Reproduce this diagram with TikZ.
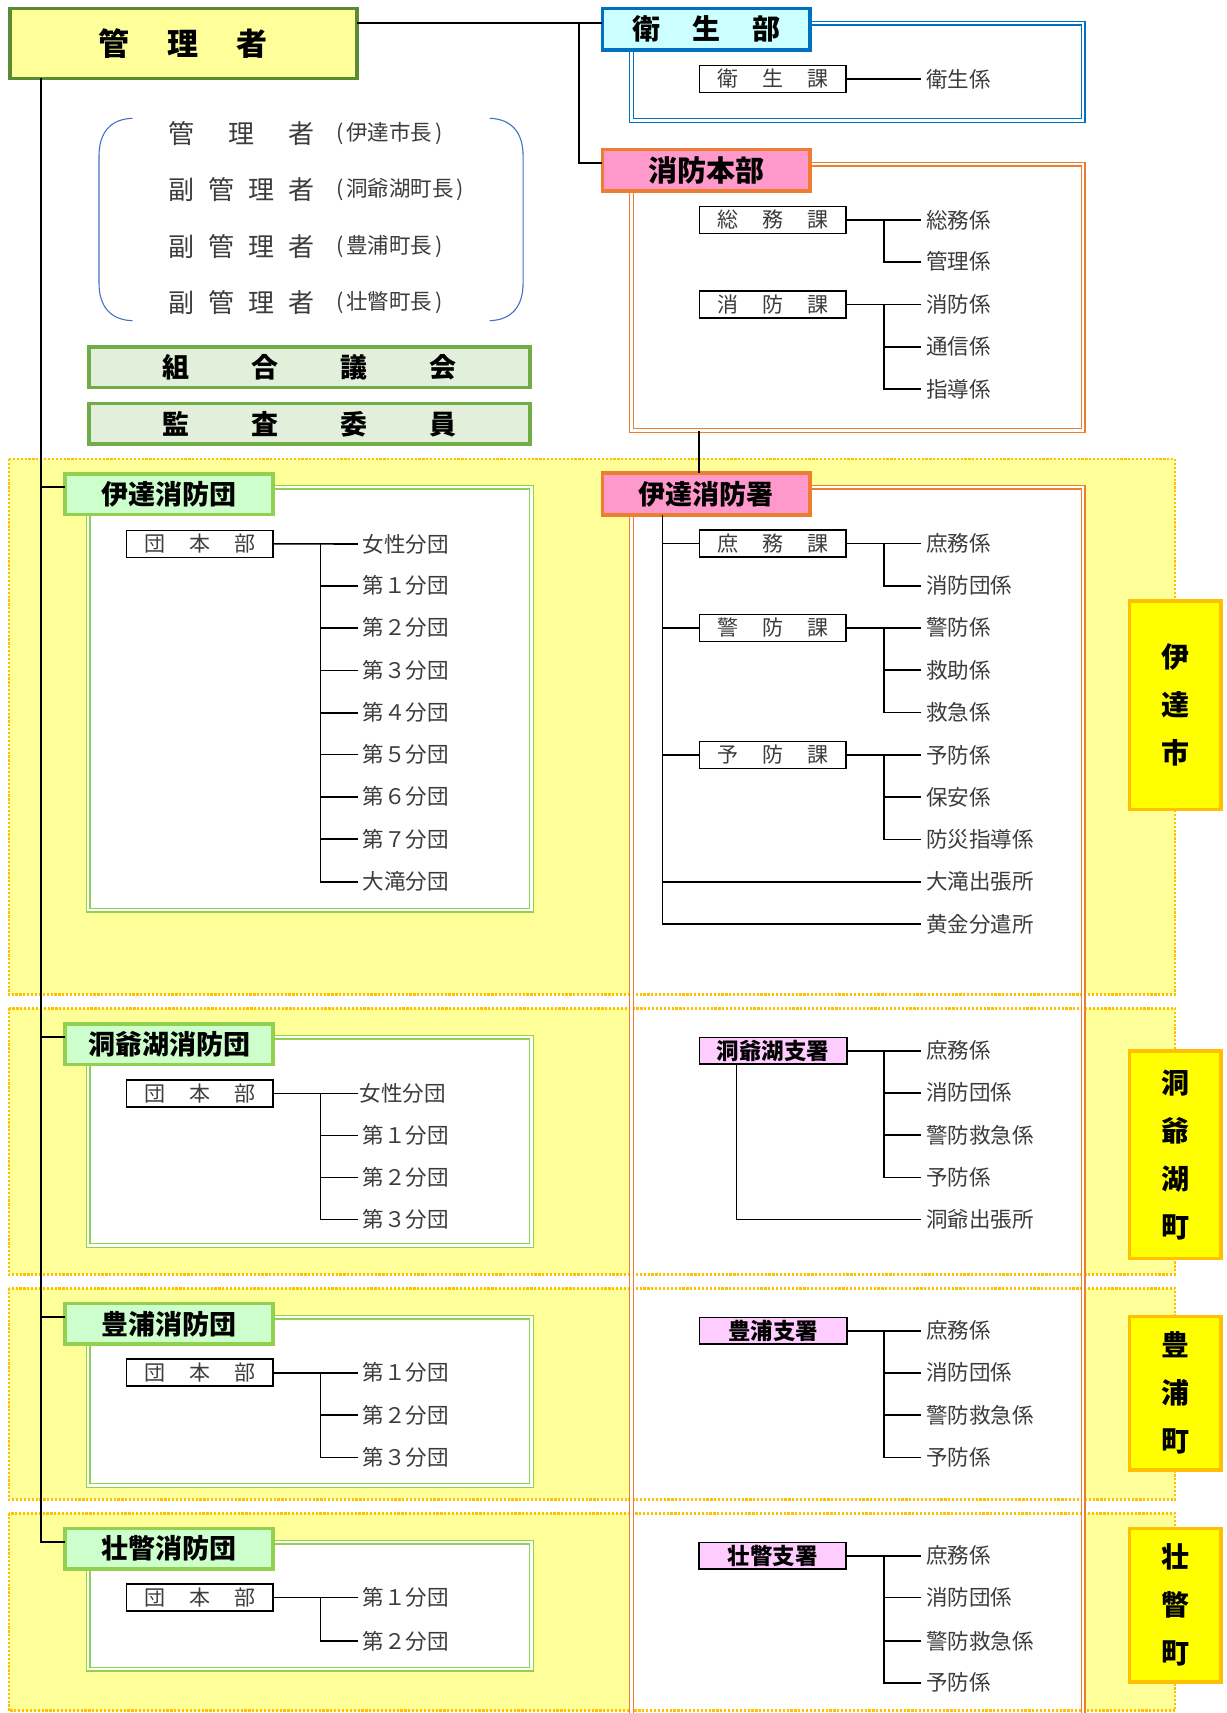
\documentclass[tikz,border=0pt]{standalone}
\usepackage{fontspec}
\newfontfamily\jp{Noto Sans CJK JP}
\definecolor{txt}{HTML}{3C3C3C}
\definecolor{ybg}{HTML}{FFFF99}
\definecolor{gold}{HTML}{FFC000}
\definecolor{mgrline}{HTML}{5A8A32}
\definecolor{cyanfill}{HTML}{CCFFFF}
\definecolor{blueline}{HTML}{0070C0}
\definecolor{pinkfill}{HTML}{FF99CC}
\definecolor{orangeline}{HTML}{ED7D31}
\definecolor{kgfill}{HTML}{E2EFDA}
\definecolor{kgline}{HTML}{70AD47}
\definecolor{sdfill}{HTML}{CCFFCC}
\definecolor{sdline}{HTML}{92D050}
\definecolor{shfill}{HTML}{FFCCFF}
\definecolor{townfill}{HTML}{FFFF00}
\definecolor{brk}{HTML}{4472C4}
\newcommand{\gap}[1]{\hspace{#1pt}}
\newcommand{\hdr}[1]{\jp\bfseries\fontsize{#1}{#1}\selectfont}
\begin{document}
\begin{tikzpicture}[x=1pt,y=-1pt,
  conn/.style={draw=black,line width=1.6pt},
  lbl/.style={anchor=west,inner xsep=5pt,inner ysep=0pt,outer sep=0pt,font=\jp\fontsize{21.5}{24}\selectfont,text=txt},
  kabox/.style={draw=black,line width=1.6pt,fill=white,minimum width=146.5pt,minimum height=27pt,inner sep=0pt,outer sep=0pt,font=\jp\fontsize{21}{24}\selectfont,text=txt},
  bigbox/.style={line width=3.5pt,inner sep=0pt,outer sep=0pt,text=black},
  sdbox/.style={bigbox,fill=sdfill,draw=sdline,minimum width=208pt,minimum height=40.2pt,font=\hdr{27}},
  kgbox/.style={bigbox,fill=kgfill,draw=kgline,minimum width=441.3pt,minimum height=40.8pt,font=\hdr{27}},
  shbox/.style={draw=black,line width=1.8pt,fill=shfill,minimum width=147.2pt,minimum height=26.5pt,inner sep=0pt,outer sep=0pt,font=\hdr{22.5}},
  town/.style={bigbox,fill=townfill,draw=gold,minimum width=91.2pt,align=center,font=\jp\bfseries\fontsize{28}{48}\selectfont},
  brtext/.style={anchor=west,inner sep=0pt,font=\jp\fontsize{26}{28}\selectfont,text=txt},
  brpar/.style={anchor=west,inner sep=0pt,font=\jp\fontsize{21.5}{24}\selectfont,text=txt},
  dotline/.style={draw=gold,line width=2.4pt,dash pattern=on 2.2pt off 1.7pt},
  gframe/.style={draw=sdline,line width=1.3pt,double=white,double distance=2.4pt},
  oframe/.style={draw=orangeline,line width=1.3pt,double=white,double distance=2.4pt},
  bframe/.style={draw=blueline,line width=1.3pt,double=white,double distance=2.4pt}
]
\useasboundingbox[fill=white] (0,0) rectangle (1226,1713);

% --- regions ---
\foreach \a/\b in {459/994.3,1008.3/1274.3,1288.3/1499.3,1513.3/1710.5}
  \fill[ybg] (8.7,\a) rectangle (1175,\b);
\fill[white] (633.6,489) rectangle (1080.6,1716);
\foreach \a/\b in {459/994.3,1008.3/1274.3,1288.3/1499.3,1513.3/1710.5}
  \draw[dotline] (8.7,\a) rectangle (1175,\b);

% --- frames ---
\draw[bframe] (631.5,23) rectangle (1083,120.5);
\draw[oframe] (631.5,164) rectangle (1083,430.5);
\draw[oframe] (631.5,1725) -- (631.5,487.2) -- (1083,487.2) -- (1083,1725);
\draw[gframe,fill=white] (88.2,487.2) rectangle (531.4,910);
\draw[gframe,fill=white] (88.2,1037.2) rectangle (531.4,1245.5);
\draw[gframe,fill=white] (88.2,1317.2) rectangle (531.4,1485.5);
\draw[gframe,fill=white] (88.2,1542) rectangle (531.4,1669);
\coordinate (hqbot) at (698.7,430.5);

% --- brackets ---
\draw[brk,line width=1.1pt] (132.5,118.3) .. controls (110,119) and (99,133) .. (99,156) -- (99,283) .. controls (99,306) and (110,320) .. (132.5,320.7);
\draw[brk,line width=1.1pt] (489.6,118.3) .. controls (512,119) and (523.1,133) .. (523.1,156) -- (523.1,283) .. controls (523.1,306) and (512,320) .. (489.6,320.7);

% --- top nodes ---
\node[bigbox,fill=ybg,draw=mgrline,minimum width=347pt,minimum height=70pt,font=\hdr{31}] (mgr) at (183.3,43.3) {管\gap{38}理\gap{38}者};
\node[bigbox,fill=cyanfill,draw=blueline,minimum width=207.5pt,minimum height=41.5pt,font=\hdr{28}] (eisei) at (706.1,29.2) {衛\gap{32}生\gap{32}部};
\node[bigbox,fill=pinkfill,draw=orangeline,minimum width=207.5pt,minimum height=41.5pt,font=\hdr{29}] (honbu) at (706.1,170.2) {消防本部};

\node[brtext] (r1a) at (168.5,133.3) {管\gap{34}理\gap{34}者};
\node[brpar]  (r1b) at (336,133.3) {(\kern3pt伊達市長\kern3pt)};
\node[brtext] (r2a) at (168.5,190) {副\gap{14}管\gap{14}理\gap{14}者};
\node[brpar]  (r2b) at (336,190) {(\kern3pt洞爺湖町長\kern3pt)};
\node[brtext] (r3a) at (168.5,246.7) {副\gap{14}管\gap{14}理\gap{14}者};
\node[brpar]  (r3b) at (336,246.7) {(\kern3pt豊浦町長\kern3pt)};
\node[brtext] (r4a) at (168.5,302.7) {副\gap{14}管\gap{14}理\gap{14}者};
\node[brpar]  (r4b) at (336,302.7) {(\kern3pt壮瞥町長\kern3pt)};

\node[kgbox] (kumiai) at (309.4,367.2) {組\gap{62}合\gap{62}議\gap{62}会};
\node[kgbox] (kansa) at (309.4,423.8) {監\gap{62}査\gap{62}委\gap{62}員};

% 衛生部 contents
\node[kabox] (eka) at (772.9,79) {衛\gap{24}生\gap{24}課};
\node[lbl] (ek1) at (921,79) {衛生係};
% 消防本部 contents
\coordinate (vxa) at (883.7,0);
\node[kabox] (soumu) at (772.9,220) {総\gap{24}務\gap{24}課};
\node[lbl] (s1) at (921,220) {総務係};
\node[lbl] (s2) at (921,261.7) {管理係};
\node[kabox] (shobo) at (772.9,304.5) {消\gap{24}防\gap{24}課};
\node[lbl] (p1) at (921,304.5) {消防係};
\node[lbl] (p2) at (921,346.7) {通信係};
\node[lbl] (p3) at (921,389) {指導係};

% --- main line ---
\coordinate (b1) at (40.7,486.7);
\coordinate (b2) at (40.7,1036.7);
\coordinate (b3) at (40.7,1316.7);
\coordinate (b4) at (40.7,1541.7);

% --- fire corps (left) ---
\node[sdbox] (dsd) at (169,494.2) {伊達消防団};
\node[sdbox] (tsd) at (169,1044.2) {洞爺湖消防団};
\node[sdbox] (usd) at (169,1323.7) {豊浦消防団};
\node[sdbox] (ssd) at (169,1548.7) {壮瞥消防団};

\coordinate (vd) at (320.3,0);
\node[kabox] (dh1) at (199.7,543.8) {団\gap{24}本\gap{24}部};
\node[lbl] (d1) at (357.8,544) {女性分団};
\node[lbl] (d2) at (357.8,585.7) {第１分団};
\node[lbl] (d3) at (357.8,627.7) {第２分団};
\node[lbl] (d4) at (357.8,670.3) {第３分団};
\node[lbl] (d5) at (357.8,712.7) {第４分団};
\node[lbl] (d6) at (357.8,754.3) {第５分団};
\node[lbl] (d7) at (357.8,796.7) {第６分団};
\node[lbl] (d8) at (357.8,839) {第７分団};
\node[lbl] (d9) at (357.8,881.7) {大滝分団};

\node[kabox] (dh2) at (199.7,1093.3) {団\gap{24}本\gap{24}部};
\node[lbl,inner xsep=2pt] (e1) at (357.8,1093.3) {女性分団};
\node[lbl] (e2) at (357.8,1135.3) {第１分団};
\node[lbl] (e3) at (357.8,1177.6) {第２分団};
\node[lbl] (e4) at (357.8,1219.6) {第３分団};

\node[kabox] (dh3) at (199.7,1372.7) {団\gap{24}本\gap{24}部};
\node[lbl] (f1) at (357.8,1372.7) {第１分団};
\node[lbl] (f2) at (357.8,1415) {第２分団};
\node[lbl] (f3) at (357.8,1457.5) {第３分団};

\node[kabox] (dh4) at (199.7,1597.5) {団\gap{24}本\gap{24}部};
\node[lbl] (g1) at (357.8,1597.5) {第１分団};
\node[lbl] (g2) at (357.8,1641) {第２分団};

% --- 伊達消防署 ---
\node[bigbox,fill=pinkfill,draw=orangeline,minimum width=207.5pt,minimum height=41.9pt,font=\hdr{27}] (dsh) at (706.1,494.1) {伊達消防署};
\coordinate (tx) at (662.4,0);
\node[kabox] (shomu) at (772.9,543.6) {庶\gap{24}務\gap{24}課};
\node[lbl] (h1) at (921,543.6) {庶務係};
\node[lbl] (h2) at (921,585.7) {消防団係};
\node[kabox] (keibo) at (772.9,627.8) {警\gap{24}防\gap{24}課};
\node[lbl] (k1) at (921,627.8) {警防係};
\node[lbl] (k2) at (921,670.2) {救助係};
\node[lbl] (k3) at (921,712.5) {救急係};
\node[kabox] (yobo) at (772.9,755) {予\gap{24}防\gap{24}課};
\node[lbl] (y1) at (921,755) {予防係};
\node[lbl] (y2) at (921,797) {保安係};
\node[lbl] (y3) at (921,839.3) {防災指導係};
\node[lbl] (ootaki) at (921,881.8) {大滝出張所};
\node[lbl] (kogane) at (921,924) {黄金分遣所};

% --- 支署 ---
\node[shbox] (tsh) at (773,1050.8) {洞爺湖支署};
\node[lbl] (t1) at (921,1050.8) {庶務係};
\node[lbl] (t2) at (921,1092.8) {消防団係};
\node[lbl] (t3) at (921,1135) {警防救急係};
\node[lbl] (t4) at (921,1177.6) {予防係};
\node[lbl] (t5) at (921,1219.3) {洞爺出張所};
\coordinate (tvx) at (736.5,0);

\node[shbox] (ush) at (773,1330.8) {豊浦支署};
\node[lbl] (u1) at (921,1330.8) {庶務係};
\node[lbl] (u2) at (921,1372.7) {消防団係};
\node[lbl] (u3) at (921,1415) {警防救急係};
\node[lbl] (u4) at (921,1457.4) {予防係};

\node[shbox] (ssh) at (772.5,1555.8) {壮瞥支署};
\node[lbl] (v1) at (921,1555.8) {庶務係};
\node[lbl] (v2) at (921,1597.5) {消防団係};
\node[lbl] (v3) at (921,1641) {警防救急係};
\node[lbl] (v4) at (921,1682.7) {予防係};

% --- town labels ---
\node[town,minimum height=208.9pt] (tdate) at (1175.3,705.2) {伊\\達\\市};
\node[town,minimum height=207.2pt] (ttoya) at (1175.3,1154.7) {洞\\爺\\湖\\町};
\node[town,minimum height=153.2pt] (ttoyo) at (1175.3,1393.3) {豊\\浦\\町};
\node[town,minimum height=153.8pt] (tsobe) at (1175.3,1605.3) {壮\\瞥\\町};

% --- connectors ---
\coordinate (j1) at (579,22.7);
\coordinate (j2) at (579,163);
\draw[conn] (j1 -| mgr.east) -- (j1 -| eisei.west);
\draw[conn] (j1) -- (j2) -- (j2 -| honbu.west);
\draw[conn] (eka.east) -- (ek1.west);
\draw[conn] (soumu.east) -- (s1.west);
\draw[conn] (s1.west -| vxa) |- (s2.west);
\draw[conn] (shobo.east) -- (p1.west);
\draw[conn] (p1.west -| vxa) |- (p3.west);
\draw[conn] (p2.west -| vxa) -- (p2.west);
\draw[conn] (hqbot) -- (hqbot |- dsh.north);

\draw[conn] (mgr.south -| b1) -- (b4) -- (b4 -| ssd.west);
\draw[conn] (b1) -- (b1 -| dsd.west);
\draw[conn] (b2) -- (b2 -| tsd.west);
\draw[conn] (b3) -- (b3 -| usd.west);

\draw[conn] (dh1.east) -- (d1.west);
\draw[conn] (d1.west -| vd) |- (d9.west);
\foreach \n in {d2,d3,d4,d5,d6,d7,d8} \draw[conn] (\n.west -| vd) -- (\n.west);
\draw[conn] (dh2.east) -- (e1.west);
\draw[conn] (e1.west -| vd) |- (e4.west);
\foreach \n in {e2,e3} \draw[conn] (\n.west -| vd) -- (\n.west);
\draw[conn] (dh3.east) -- (f1.west);
\draw[conn] (f1.west -| vd) |- (f3.west);
\draw[conn] (f2.west -| vd) -- (f2.west);
\draw[conn] (dh4.east) -- (g1.west);
\draw[conn] (g1.west -| vd) |- (g2.west);

\draw[conn] (dsh.south -| tx) |- (kogane.west);
\foreach \n in {shomu,keibo,yobo,ootaki} \draw[conn] (\n.west -| tx) -- (\n.west);
\draw[conn] (shomu.east) -- (h1.west);
\draw[conn] (h1.west -| vxa) |- (h2.west);
\draw[conn] (keibo.east) -- (k1.west);
\draw[conn] (k1.west -| vxa) |- (k3.west);
\draw[conn] (k2.west -| vxa) -- (k2.west);
\draw[conn] (yobo.east) -- (y1.west);
\draw[conn] (y1.west -| vxa) |- (y3.west);
\draw[conn] (y2.west -| vxa) -- (y2.west);

\draw[conn] (tsh.east) -- (t1.west);
\draw[conn] (t1.west -| vxa) |- (t4.west);
\foreach \n in {t2,t3} \draw[conn] (\n.west -| vxa) -- (\n.west);
\draw[conn] (tsh.south -| tvx) |- (t5.west);
\draw[conn] (ush.east) -- (u1.west);
\draw[conn] (u1.west -| vxa) |- (u4.west);
\foreach \n in {u2,u3} \draw[conn] (\n.west -| vxa) -- (\n.west);
\draw[conn] (ssh.east) -- (v1.west);
\draw[conn] (v1.west -| vxa) |- (v4.west);
\foreach \n in {v2,v3} \draw[conn] (\n.west -| vxa) -- (\n.west);
\end{tikzpicture}
\end{document}
